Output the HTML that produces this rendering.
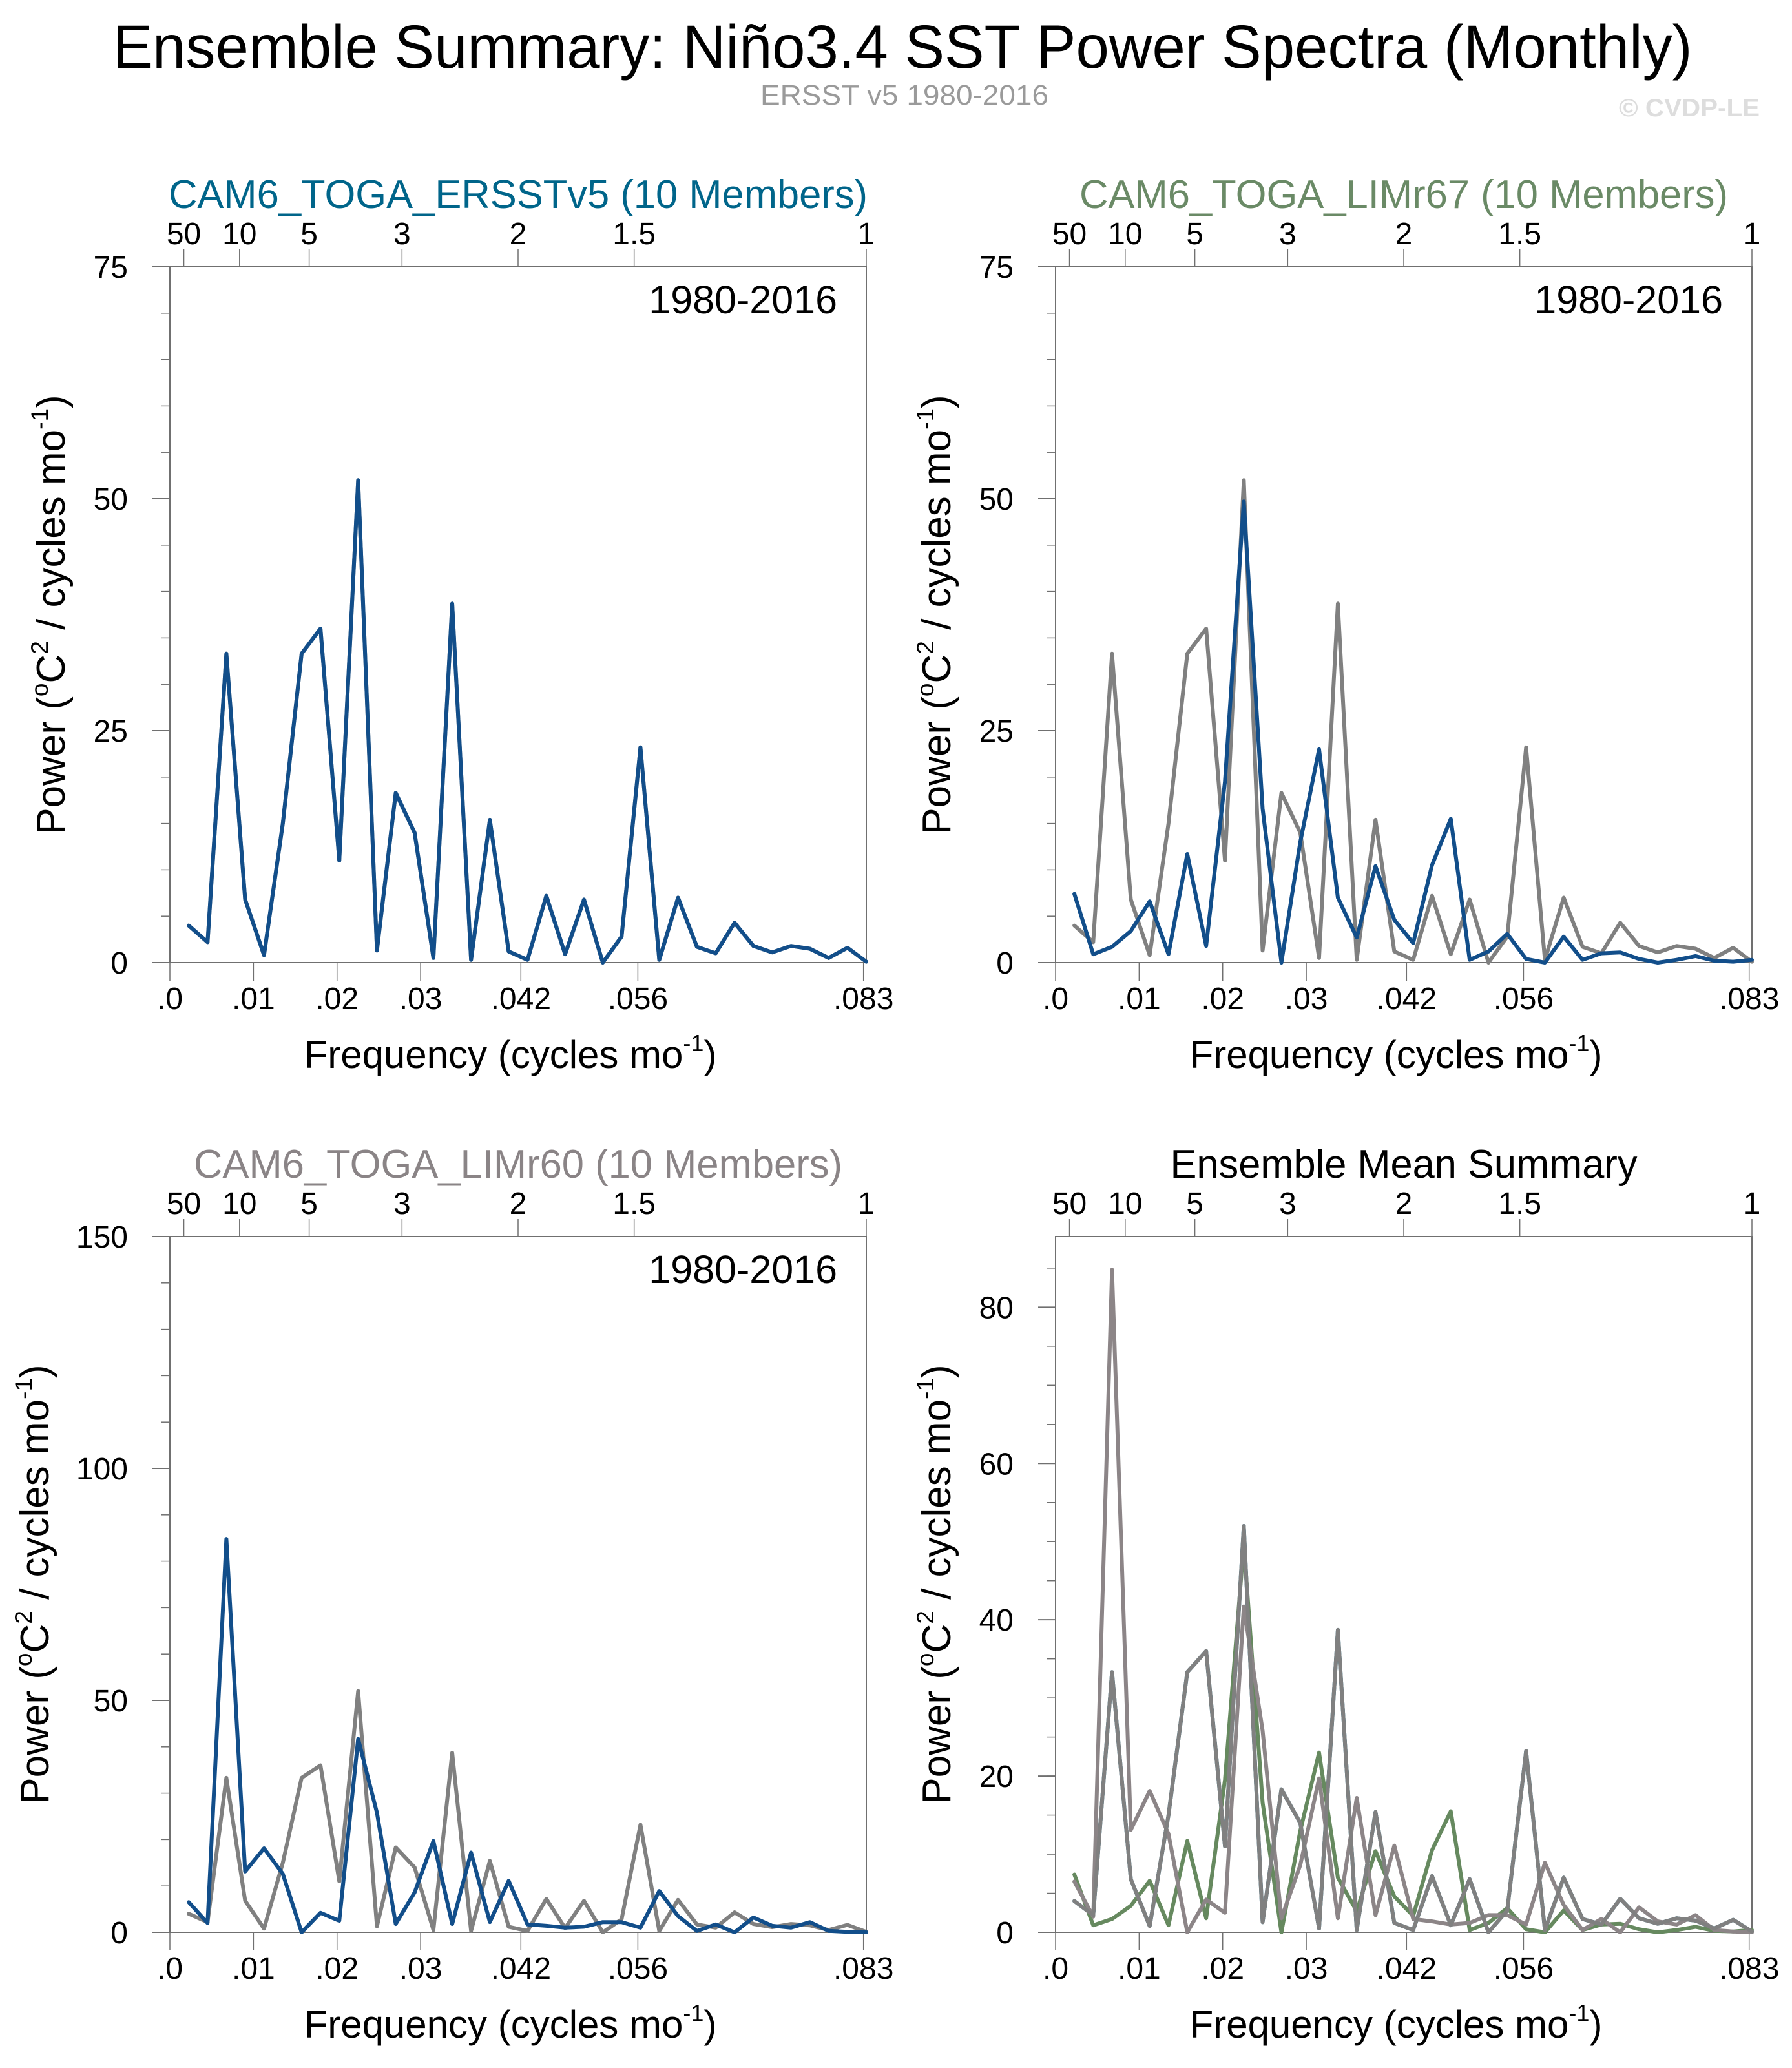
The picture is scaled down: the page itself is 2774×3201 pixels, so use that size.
<!DOCTYPE html>
<html>
<head>
<meta charset="utf-8">
<style>
  html, body { margin: 0; padding: 0; background: #ffffff; }
  svg { display: block; font-family: "Liberation Sans", Arial, sans-serif; }
</style>
</head>
<body>
<svg id="fig" width="2774" height="3201" viewBox="0 0 2774 3201" xmlns="http://www.w3.org/2000/svg">
  <rect x="0" y="0" width="2774" height="3201" fill="#ffffff"/>
  <text x="1397" y="105" text-anchor="middle" font-size="95" textLength="2445" lengthAdjust="spacingAndGlyphs" fill="#000">Ensemble Summary: Niño3.4 SST Power Spectra (Monthly)</text>
  <text x="1400" y="162" text-anchor="middle" font-size="44" textLength="446" lengthAdjust="spacingAndGlyphs" fill="#9a9a9a">ERSST v5 1980-2016</text>
  <text x="2724" y="180" text-anchor="end" font-size="39" font-weight="bold" textLength="218" lengthAdjust="spacingAndGlyphs" fill="#dddddd">© CVDP-LE</text>
  <g id="panels"></g>
</svg>
<script>
// ---- data (frequency index k = 1..37, freq = k / 444 cycles per month) ----
const harmonics = [1,2,3,4,5,6,7,8,9,10,11,12,13,14,15,16,17,18,19,20,21,22,23,24,25,26,27,28,29,30,31,32,33,34,35,36,37];
const recordLength = 444;
const obsErsst = [4,2.2,33.3,6.8,0.8,15,33.3,36,11,52,1.3,18.3,14,0.5,38.7,0.3,15.4,1.2,0.3,7.2,0.9,6.8,0,2.8,23.2,0.3,7,1.7,1,4.3,1.8,1.1,1.8,1.5,0.5,1.6,0.1];
const ensErsst = [4,2.2,33.3,6.8,0.8,15,33.3,36,11,52,1.3,18.3,14,0.5,38.7,0.3,15.4,1.2,0.3,7.2,0.9,6.8,0,2.8,23.2,0.3,7,1.7,1,4.3,1.8,1.1,1.8,1.5,0.5,1.6,0.1];
const ensLim67 = [7.4,0.9,1.7,3.4,6.6,0.9,11.7,1.8,19.5,49.7,16.6,0,13,23,7,2.7,10.4,4.6,2.1,10.5,15.5,0.3,1.2,3.1,0.4,0,2.8,0.3,1.0,1.1,0.4,0,0.3,0.7,0.2,0.1,0.3];
const ensLim60 = [6.5,2.0,84.8,13.1,18.1,12.6,0,4.2,2.5,41.7,25.8,1.8,8.6,19.7,1.8,17.2,2.2,11.1,1.7,1.4,1.0,1.2,2.2,2.2,1.0,8.9,3.5,0.3,1.7,0,3.2,1.4,1.0,2.2,0.3,0.1,0];
const freqTickValues = [0, 0.01, 0.02, 0.03, 0.042, 0.056, 0.083];
const freqTickLabels = [".0", ".01", ".02", ".03", ".042", ".056", ".083"];
const periodTickValues = [50, 10, 5, 3, 2, 1.5, 1];
const periodTickLabels = ["50", "10", "5", "3", "2", "1.5", "1"];
const yTicksP1 = [0, 25, 50, 75];
const yTicksP3 = [0, 50, 100, 150];
const yTicksP4 = [0, 20, 40, 60, 80];

const NS = "http://www.w3.org/2000/svg";
const root = document.getElementById("panels");
const FMAX = 1 / 12;
const AXC = "#707070";

function mk(tag, attrs, parent) {
  const e = document.createElementNS(NS, tag);
  for (const k in attrs) e.setAttribute(k, attrs[k]);
  (parent || root).appendChild(e);
  return e;
}

function drawPanel(p) {
  const g = mk("g", {});
  
  
  const L = p.L, R = p.L + 1078, T = p.T, B = p.T + 1077;
  const xs = f => L + (f / FMAX) * (R - L);
  const ys = v => B - (v / p.ymax) * (B - T);

  // title
  const t = mk("text", {x: (L + R) / 2, y: T - 91, "text-anchor": "middle", "font-size": 62, fill: p.titleColor}, g);
  if (p.titleLen) { t.setAttribute("textLength", p.titleLen); t.setAttribute("lengthAdjust", "spacingAndGlyphs"); }
  t.textContent = p.title;
  
  

  // frame
  const fr = mk("rect", {x: L, y: T, width: R - L, height: B - T, fill: "none", stroke: AXC, "stroke-width": 2}, g);
  
  

  // y minor ticks
  for (let v = 0; v <= p.ymax + 1e-9; v += p.yminor) {
    const yy = ys(v);
    const tk = mk("line", {x1: L - 14, x2: L, y1: yy, y2: yy, stroke: AXC, "stroke-width": 1.5}, g);
    
    
  }
  // y major ticks + labels
  p.yticks.forEach(v => {
    const yy = ys(v);
    const tk = mk("line", {x1: L - 27, x2: L, y1: yy, y2: yy, stroke: AXC, "stroke-width": 2}, g);
    
    
    const lb = mk("text", {x: L - 65, y: yy + 17, "text-anchor": "end", "font-size": 48, fill: "#000"}, g);
    lb.textContent = String(v);
    
    
  });
  // bottom frequency ticks
  freqTickValues.forEach((f, i) => {
    const xx = xs(f);
    const tk = mk("line", {x1: xx, x2: xx, y1: B, y2: B + 28, stroke: AXC, "stroke-width": 1.5}, g);
    
    
    const lb = mk("text", {x: xx, y: B + 72, "text-anchor": "middle", "font-size": 48, fill: "#000"}, g);
    lb.textContent = freqTickLabels[i];
    
    
  });
  // top period ticks
  periodTickValues.forEach((per, i) => {
    const xx = xs(1 / (12 * per));
    const tk = mk("line", {x1: xx, x2: xx, y1: T - 27, y2: T, stroke: AXC, "stroke-width": 1.5}, g);
    
    
    const lb = mk("text", {x: xx, y: T - 35, "text-anchor": "middle", "font-size": 48, fill: "#000"}, g);
    lb.textContent = periodTickLabels[i];
    
    
  });

  // x axis title
  const xt = mk("text", {x: (L + R) / 2 - 12, y: B + 163, "text-anchor": "middle", "font-size": 60, fill: "#000"}, g);
  xt.innerHTML = 'Frequency (cycles mo<tspan font-size="36" dy="-26">-1</tspan><tspan dy="26">)</tspan>';
  
  

  // y axis title
  const cy = (T + B) / 2;
  const yt = mk("text", {x: 0, y: 0, "text-anchor": "middle", "font-size": 62, fill: "#000",
    transform: "translate(" + p.ytx + "," + cy + ") rotate(-90)"}, g);
  yt.innerHTML = 'Power (<tspan font-size="37" dy="-26">o</tspan><tspan dy="26">C</tspan><tspan font-size="37" dy="-26">2</tspan><tspan dy="26"> / cycles mo</tspan><tspan font-size="37" dy="-26">-1</tspan><tspan dy="26">)</tspan>';
  
  

  // period label
  if (p.period) {
    const pl = mk("text", {x: R - 45, y: T + 72, "text-anchor": "end", "font-size": 61, fill: "#000"}, g);
    pl.textContent = "1980-2016";
    
    
  }

  // series
  p.series.forEach(s => {
    const pts = harmonics.map((k, i) => xs(k / recordLength).toFixed(1) + "," + ys(s.values[i]).toFixed(1)).join(" ");
    const ln = mk("polyline", {points: pts, fill: "none", stroke: s.color, "stroke-width": 6, "stroke-linejoin": "round", "stroke-linecap": "round"}, g);
    
    
  });
}

const BLUE = "#124e8a", GRAY = "#808080", GREEN = "#66895f", PINK = "#8c8587", TEAL = "#006489";

drawPanel({name: "panel-ersstv5", L: 263, T: 413, ymax: 75, yticks: yTicksP1, yminor: 5, ytx: 100,
  title: "CAM6_TOGA_ERSSTv5 (10 Members)", titleColor: "#00658a", titleLen: 1082, period: true,
  series: [{name: "obs-line", values: obsErsst, color: GRAY}, {name: "ensemble-mean-line", values: ensErsst, color: BLUE}]});
drawPanel({name: "panel-limr67", L: 1634, T: 413, ymax: 75, yticks: yTicksP1, yminor: 5, ytx: 1471,
  title: "CAM6_TOGA_LIMr67 (10 Members)", titleColor: "#6a8a66", titleLen: 1004, period: true,
  series: [{name: "obs-line", values: obsErsst, color: GRAY}, {name: "ensemble-mean-line", values: ensLim67, color: BLUE}]});
drawPanel({name: "panel-limr60", L: 263, T: 1914, ymax: 150, yticks: yTicksP3, yminor: 10, ytx: 75,
  title: "CAM6_TOGA_LIMr60 (10 Members)", titleColor: "#8a8486", titleLen: 1004, period: true,
  series: [{name: "obs-line", values: obsErsst, color: GRAY}, {name: "ensemble-mean-line", values: ensLim60, color: BLUE}]});
drawPanel({name: "panel-ensemble-summary", L: 1634, T: 1914, ymax: 89.04, yticks: yTicksP4, yminor: 5, ytx: 1471,
  title: "Ensemble Mean Summary", titleColor: "#000000", titleLen: 723, period: false,
  series: [{name: "ersstv5-line", values: ensErsst, color: TEAL},
           {name: "limr67-line", values: ensLim67, color: GREEN},
           {name: "limr60-line", values: ensLim60, color: PINK},
           {name: "obs-line", values: obsErsst, color: GRAY}]});
</script>
</body>
</html>
